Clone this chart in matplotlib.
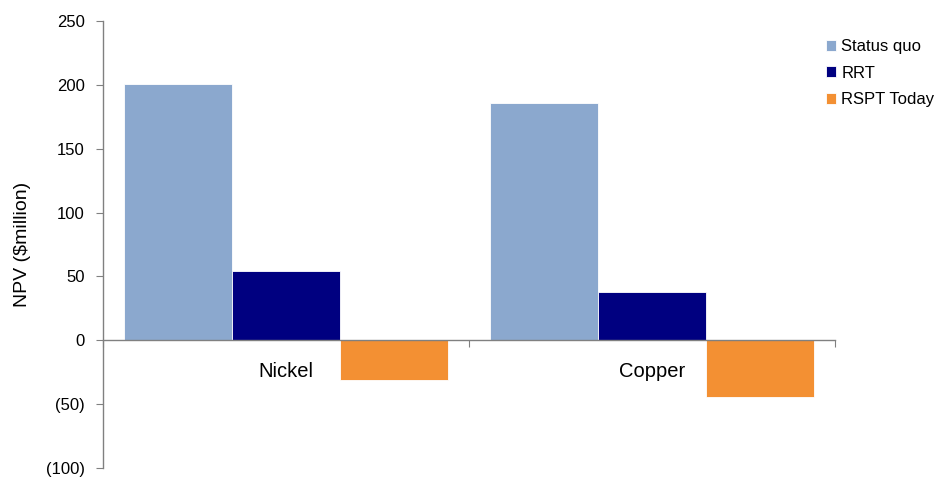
import numpy as np
import matplotlib
matplotlib.use("Agg")
import matplotlib.pyplot as plt

plt.rcParams['font.family'] = ['Liberation Sans', 'DejaVu Sans']

categories = ['Nickel', 'Copper']
status_quo = [201, 186]
rrt = [54, 37.5]
rspt_today = [-31, -44.5]
series_names = ['Status quo', 'RRT', 'RSPT Today']
colors = ['#8BA8CE', '#000080', '#F39033']

fig = plt.figure(figsize=(9.41, 4.78), dpi=100)
ax = fig.add_axes([0.1095, 0.021, 0.7775, 0.935])

x = np.arange(len(categories))
w = 0.295
for i, (vals, name, c) in enumerate(zip([status_quo, rrt, rspt_today], series_names, colors)):
    ax.bar(x + (i - 1) * w, vals, w, color=c, label=name, edgecolor='white', linewidth=0.6)

ax.set_xlim(-0.5, len(categories) - 0.5)
ax.set_ylim(-100, 250)
ax.set_yticks(np.arange(-100, 251, 50))
ax.set_yticklabels(['(100)', '(50)', '0', '50', '100', '150', '200', '250'])

ax.spines['top'].set_visible(False)
ax.spines['right'].set_visible(False)
ax.spines['bottom'].set_position(('data', 0))
for s in ['left', 'bottom']:
    ax.spines[s].set_color('#808080')
    ax.spines[s].set_linewidth(1.0)

ax.set_xticks(np.arange(-0.5, len(categories), 1.0))
ax.set_xticklabels([])
ax.tick_params(axis='x', which='major', length=5, color='#808080')
ax.set_xticks(x, minor=True)
ax.set_xticklabels(categories, minor=True, fontsize=14.5)
ax.tick_params(axis='x', which='minor', length=0, pad=16)
ax.tick_params(axis='y', length=5, color='#808080', labelsize=12, pad=8)

ax.set_ylabel('NPV ($million)', fontsize=14, labelpad=11)

leg = ax.legend(loc='upper left', bbox_to_anchor=(0.983, 0.967), frameon=False,
                fontsize=12, handlelength=0.65, handleheight=0.65, handletextpad=0.3,
                labelspacing=0.7, borderaxespad=0, borderpad=0.2)

fig.savefig('out.png', dpi=100)
